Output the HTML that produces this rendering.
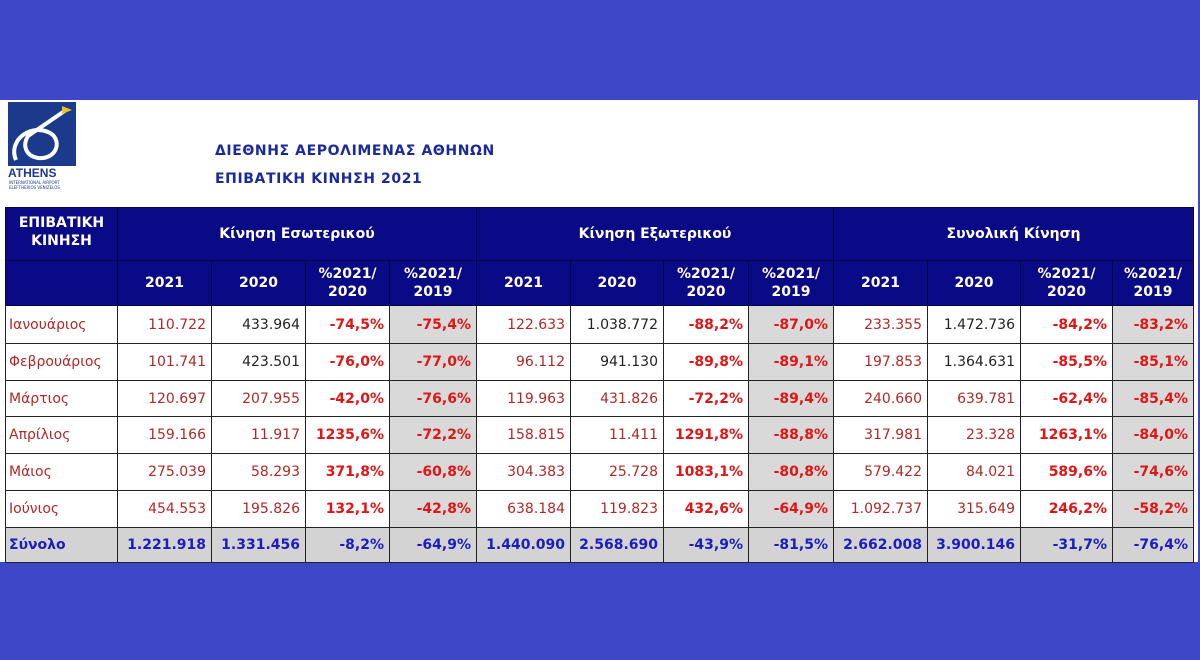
<!DOCTYPE html>
<html><head><meta charset="utf-8"><style>
body{margin:0;width:1200px;height:660px;background:#3f47c9;position:relative;overflow:hidden;font-family:"DejaVu Sans","Liberation Sans",sans-serif}
#w{position:absolute;left:0;top:100px;width:1198px;height:462px;background:#fff}
.t{position:absolute;left:215px;color:#1a2a9a;font-weight:bold;font-size:14px;letter-spacing:0.6px}
table{position:absolute;left:5px;top:207px;border-collapse:collapse;table-layout:fixed}
td{border:1.5px solid #222;font-size:14px;text-align:right;padding:0 5px;white-space:nowrap}
.h td{background:#0a0a86;color:#fff;font-weight:bold;text-align:center;font-size:14px;line-height:18px;border-color:#050540}
.m{color:#b02828;text-align:left;padding-left:3px}
.n{color:#b02828}.k{color:#222}
.p{color:#e01515;font-weight:bold}
.g{background:#d9d9d9}
.s td{background:#d3d3d3;color:#1c1cbf;font-weight:bold}
.s td.m{color:#1c1cbf}
</style></head><body>
<div id="w">
<div style="position:absolute;left:8px;top:2px;width:68px;height:64px;background:#1c3a8c"></div>
<svg style="position:absolute;left:8px;top:2px" width="68" height="64"><path d="M8 58 C 0 40, 20 22, 40 30 C 55 36, 50 58, 30 56 C 18 54, 14 44, 20 34 L 58 8" fill="none" stroke="#fff" stroke-width="4"/><path d="M54 4 l10 4 -10 4z" fill="#f0c020"/></svg>
<div style="position:absolute;left:8px;top:66px;color:#1c3a8c;font-weight:bold;font-size:12px;font-family:'Liberation Sans',sans-serif">ATHENS</div>
<div style="position:absolute;left:9px;top:80px;color:#1c3a8c;font-size:4px;width:66px">INTERNATIONAL AIRPORT ELEFTHERIOS VENIZELOS</div>
<div class="t" style="top:43px">ΔΙΕΘΝΗΣ ΑΕΡΟΛΙΜΕΝΑΣ ΑΘΗΝΩΝ</div>
<div class="t" style="top:71px">ΕΠΙΒΑΤΙΚΗ ΚΙΝΗΣΗ 2021</div>
</div>
<table>
<colgroup><col style="width:112px"><col style="width:94px"><col style="width:94px"><col style="width:84px"><col style="width:87px"><col style="width:94px"><col style="width:93px"><col style="width:85px"><col style="width:85px"><col style="width:94px"><col style="width:93px"><col style="width:92px"><col style="width:81px"></colgroup>
<tr class="h" style="height:53px"><td style="vertical-align:top;padding-top:6px">ΕΠΙΒΑΤΙΚΗ<br>ΚΙΝΗΣΗ</td><td colspan="4">Κίνηση Εσωτερικού</td><td colspan="4">Κίνηση Εξωτερικού</td><td colspan="4">Συνολική Κίνηση</td></tr>
<tr class="h" style="height:45px"><td></td><td>2021</td><td>2020</td><td>%2021/<br>2020</td><td>%2021/<br>2019</td><td>2021</td><td>2020</td><td>%2021/<br>2020</td><td>%2021/<br>2019</td><td>2021</td><td>2020</td><td>%2021/<br>2020</td><td>%2021/<br>2019</td></tr>
<tr style="height:38px"><td class="m">Ιανουάριος</td><td class="n">110.722</td><td class="k">433.964</td><td class="p">-74,5%</td><td class="p g">-75,4%</td><td class="n">122.633</td><td class="k">1.038.772</td><td class="p">-88,2%</td><td class="p g">-87,0%</td><td class="n">233.355</td><td class="k">1.472.736</td><td class="p">-84,2%</td><td class="p g">-83,2%</td></tr>
<tr style="height:37px"><td class="m">Φεβρουάριος</td><td class="n">101.741</td><td class="k">423.501</td><td class="p">-76,0%</td><td class="p g">-77,0%</td><td class="n">96.112</td><td class="k">941.130</td><td class="p">-89,8%</td><td class="p g">-89,1%</td><td class="n">197.853</td><td class="k">1.364.631</td><td class="p">-85,5%</td><td class="p g">-85,1%</td></tr>
<tr style="height:36px"><td class="m">Μάρτιος</td><td class="n">120.697</td><td class="n">207.955</td><td class="p">-42,0%</td><td class="p g">-76,6%</td><td class="n">119.963</td><td class="n">431.826</td><td class="p">-72,2%</td><td class="p g">-89,4%</td><td class="n">240.660</td><td class="n">639.781</td><td class="p">-62,4%</td><td class="p g">-85,4%</td></tr>
<tr style="height:37px"><td class="m">Απρίλιος</td><td class="n">159.166</td><td class="n">11.917</td><td class="p">1235,6%</td><td class="p g">-72,2%</td><td class="n">158.815</td><td class="n">11.411</td><td class="p">1291,8%</td><td class="p g">-88,8%</td><td class="n">317.981</td><td class="n">23.328</td><td class="p">1263,1%</td><td class="p g">-84,0%</td></tr>
<tr style="height:37px"><td class="m">Μάιος</td><td class="n">275.039</td><td class="n">58.293</td><td class="p">371,8%</td><td class="p g">-60,8%</td><td class="n">304.383</td><td class="n">25.728</td><td class="p">1083,1%</td><td class="p g">-80,8%</td><td class="n">579.422</td><td class="n">84.021</td><td class="p">589,6%</td><td class="p g">-74,6%</td></tr>
<tr style="height:37px"><td class="m">Ιούνιος</td><td class="n">454.553</td><td class="n">195.826</td><td class="p">132,1%</td><td class="p g">-42,8%</td><td class="n">638.184</td><td class="n">119.823</td><td class="p">432,6%</td><td class="p g">-64,9%</td><td class="n">1.092.737</td><td class="n">315.649</td><td class="p">246,2%</td><td class="p g">-58,2%</td></tr>
<tr class="s" style="height:35px"><td class="m">Σύνολο</td><td>1.221.918</td><td>1.331.456</td><td>-8,2%</td><td>-64,9%</td><td>1.440.090</td><td>2.568.690</td><td>-43,9%</td><td>-81,5%</td><td>2.662.008</td><td>3.900.146</td><td>-31,7%</td><td>-76,4%</td></tr>
</table>
</body></html>
